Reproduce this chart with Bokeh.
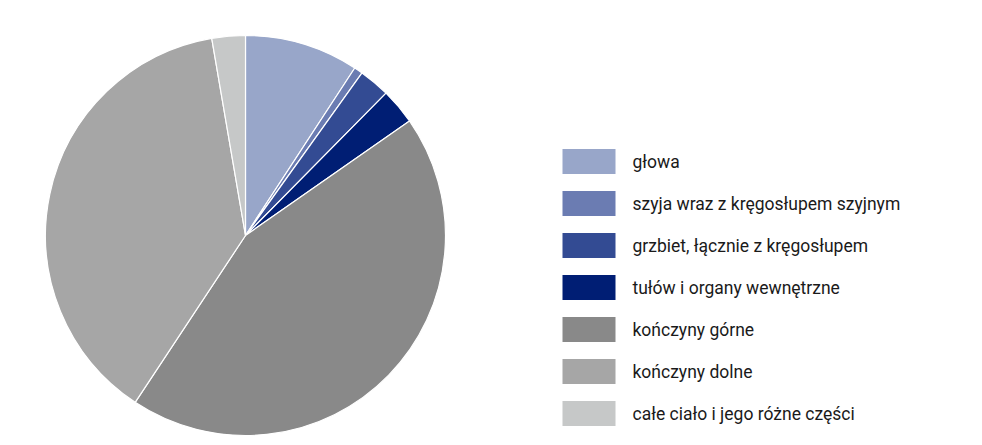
import numpy as np
from bokeh.plotting import figure
from bokeh.models import Range1d, ColumnDataSource
from bokeh.core.properties import value
from bokeh.embed import file_html
from bokeh.resources import INLINE

categories = ["głowa", "szyja wraz z kręgosłupem szyjnym", "grzbiet, łącznie z kręgosłupem",
              "tułów i organy wewnętrzne", "kończyny górne", "kończyny dolne",
              "całe ciało i jego różne części"]
shares = [9.2, 0.7, 2.5, 2.9, 44.0, 38.0, 2.7]
colors = ["#98A6C9", "#6B7CB2", "#334B93", "#001E74", "#898989", "#A6A6A6", "#C6C8C8"]

W, H = 972, 440
p = figure(width=W, height=H, output_backend="svg", toolbar_location=None,
           x_range=Range1d(0, W), y_range=Range1d(0, H), min_border=0)
p.axis.visible = False
p.grid.visible = False
p.outline_line_color = None
p.background_fill_color = "white"
p.border_fill_color = "white"

frac = np.array(shares) / sum(shares)
cum = np.cumsum(frac)
before = cum - frac
start = np.pi / 2 - 2 * np.pi * cum
end = np.pi / 2 - 2 * np.pi * before

cx, cy, r = 245, H - 235, 200
src = ColumnDataSource(dict(start=start, end=end, color=colors, cat=categories))
p.wedge(x=cx, y=cy, radius=r, start_angle="start", end_angle="end",
        fill_color="color", line_color="white", line_width=1.2, source=src)

n = len(categories)
row_y = [H - 161 - 42 * i for i in range(n)]
leg = ColumnDataSource(dict(y=row_y, color=colors, cat=categories))
p.rect(x=588.5, y="y", width=53, height=25, fill_color="color", line_color=None, source=leg)
p.text(x=632, y="y", text="cat", text_font=value("Roboto"), text_font_size="17.5px",
       text_color="#1a1a1a", text_baseline="middle", text_align="left", source=leg)

open("out.html", "w").write(file_html(p, INLINE))
